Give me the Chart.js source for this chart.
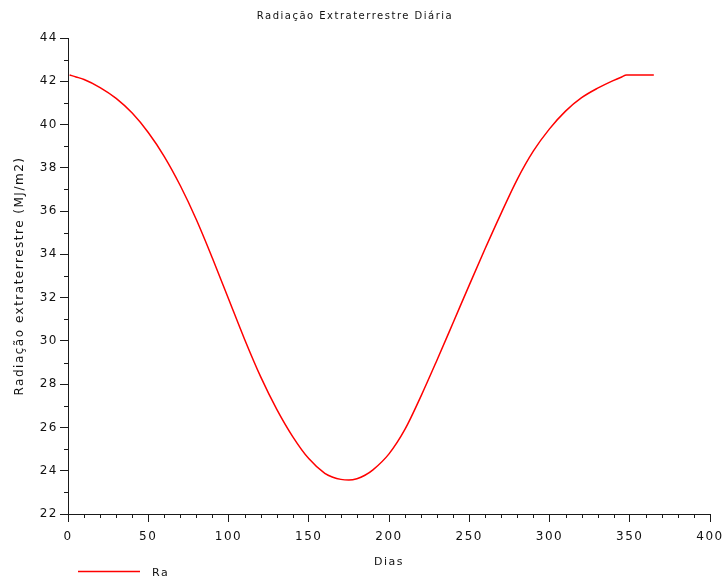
<!DOCTYPE html>
<html>
<head>
<meta charset="utf-8">
<script src="https://cdn.jsdelivr.net/npm/chart.js@4.4.1/dist/chart.umd.min.js"></script>
<style>
  html, body { margin: 0; padding: 0; background: #ffffff; }
  #wrap { width: 722px; height: 576px; position: relative; }
</style>
</head>
<body>
<div id="wrap"><canvas id="c" width="722" height="576"></canvas></div>
<script>
// Data
const days = [1, 5, 10, 20, 30, 40, 50, 60, 70, 80, 90, 100, 110, 120, 130, 140, 150, 160, 165, 170, 175, 180, 185, 190, 200, 210, 220, 230, 240, 250, 260, 270, 280, 290, 300, 310, 320, 330, 340, 345, 348, 355, 365];
const raValues = [42.29, 42.20, 42.08, 41.71, 41.21, 40.53, 39.63, 38.52, 37.17, 35.60, 33.82, 31.95, 30.08, 28.35, 26.85, 25.58, 24.56, 23.88, 23.70, 23.60, 23.57, 23.63, 23.79, 24.04, 24.78, 25.92, 27.46, 29.13, 30.85, 32.58, 34.28, 35.92, 37.48, 38.78, 39.80, 40.62, 41.24, 41.68, 42.04, 42.20, 42.29, 42.29, 42.29];
const seriesLabel = 'Ra';
const xTicks = [0, 50, 100, 150, 200, 250, 300, 350, 400];
const yTicks = [22, 24, 26, 28, 30, 32, 34, 36, 38, 40, 42, 44];
const chartTitle = 'Radiação Extraterrestre Diária';
const xTitle = 'Dias';
const yTitle = 'Radiação extraterrestre (MJ/m2)';

const points = days.map((d, i) => ({ x: d, y: raValues[i] }));
const axisColor = '#1a1a1a';
const FONT = 'DejaVu Sans';

const spacing = {
  id: 'spacing',
  beforeUpdate(chart) { chart.ctx.letterSpacing = '1.5px'; },
  beforeLayout(chart) { chart.ctx.letterSpacing = '1.5px'; },
  beforeDraw(chart) { chart.ctx.letterSpacing = '1.5px'; }
};

const minorTicks = {
  id: 'minorTicks',
  afterDraw(chart) {
    const ctx = chart.ctx;
    const xs = chart.scales.x, ys = chart.scales.y;
    ctx.save();
    ctx.strokeStyle = axisColor;
    ctx.lineWidth = 1;
    ctx.beginPath();
    for (let v = xs.min; v <= xs.max; v += 10) {
      if (v % 50 === 0) continue;
      const px = Math.round(xs.getPixelForValue(v)) + 0.5;
      ctx.moveTo(px, ys.bottom);
      ctx.lineTo(px, ys.bottom + 4);
    }
    for (let v = ys.min; v <= ys.max; v += 1) {
      if (v % 2 === 0) continue;
      const py = Math.round(ys.getPixelForValue(v)) + 0.5;
      ctx.moveTo(xs.left - 4, py);
      ctx.lineTo(xs.left, py);
    }
    ctx.stroke();
    // legend entry
    const ds = chart.data.datasets[0];
    ctx.strokeStyle = ds.borderColor;
    ctx.lineWidth = 1.3;
    ctx.beginPath();
    ctx.moveTo(78, 571.5);
    ctx.lineTo(140, 571.5);
    ctx.stroke();
    ctx.fillStyle = '#111';
    ctx.font = '11px "' + FONT + '"';
    ctx.letterSpacing = '1.5px';
    ctx.textBaseline = 'middle';
    ctx.fillText(ds.label, 152, 573);
    ctx.restore();
  }
};

new Chart(document.getElementById('c'), {
  type: 'line',
  data: {
    datasets: [{
      label: seriesLabel,
      data: points,
      borderColor: '#ff0000',
      backgroundColor: '#ff0000',
      borderWidth: 1.5,
      pointRadius: 0,
      fill: false,
      cubicInterpolationMode: 'monotone'
    }]
  },
  options: {
    responsive: false,
    animation: false,
    layout: { padding: { left: 0, right: 12, top: 0, bottom: 0 } },
    plugins: {
      legend: { display: false },
      tooltip: { enabled: false },
      title: {
        display: true,
        text: chartTitle,
        color: '#111',
        font: { family: FONT, size: 10, weight: 'normal' },
        padding: { top: 10, bottom: 16 }
      }
    },
    scales: {
      x: {
        type: 'linear',
        min: 0, max: 400,
        afterBuildTicks(scale) { scale.ticks = xTicks.map(v => ({ value: v })); },
        afterFit(scale) { scale.height = 62; scale.paddingRight = 0; scale.paddingLeft = 0; },
        ticks: { color: '#111', font: { family: FONT, size: 12 }, padding: 8, maxRotation: 0 },
        grid: { display: true, drawOnChartArea: false, drawTicks: true, tickLength: 8, color: axisColor, tickColor: axisColor },
        border: { display: true, color: axisColor, width: 1 },
        title: { display: true, text: xTitle, color: '#111', font: { family: FONT, size: 11 }, padding: { top: 0, bottom: 7 } }
      },
      y: {
        type: 'linear',
        min: 22, max: 44,
        afterBuildTicks(scale) { scale.ticks = yTicks.map(v => ({ value: v })); },
        afterFit(scale) { scale.width = 68; },
        ticks: { color: '#111', font: { family: FONT, size: 12 }, padding: 2 },
        grid: { display: true, drawOnChartArea: false, drawTicks: true, tickLength: 8, color: axisColor, tickColor: axisColor },
        border: { display: true, color: axisColor, width: 1 },
        title: { display: true, text: yTitle, color: '#111', font: { family: FONT, size: 12 }, padding: { top: 13, bottom: 0 } }
      }
    }
  },
  plugins: [spacing, minorTicks]
});
</script>
</body>
</html>
